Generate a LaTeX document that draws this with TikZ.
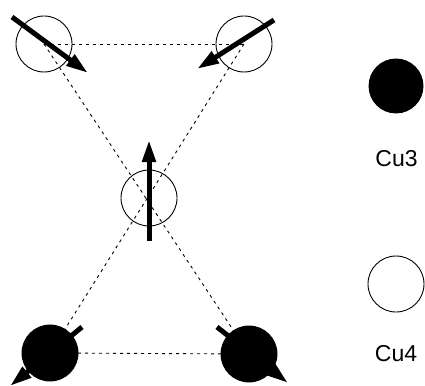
\documentclass[tikz,border=0pt]{standalone}
\usepackage{fontspec}
\setmainfont{Liberation Sans}
\usetikzlibrary{arrows.meta}
\begin{document}
\begin{tikzpicture}[x=1pt,y=-1pt,
  site/.style={circle,draw=black,line width=0.9pt,minimum size=56pt,inner sep=0pt},
  cuthree/.style={site,fill=black},
  cufour/.style={site},
  bond/.style={line width=0.9pt,dash pattern=on 3pt off 4pt},
  spin/.style={line width=5pt,-{Triangle[length=22pt,width=13pt]}},
  lbl/.style={font=\fontsize{23}{23}\selectfont,inner sep=0pt}]
\useasboundingbox (0,0) rectangle (425,385);
% sites
\coordinate (A) at (44,44);
\coordinate (B) at (244,44);
\coordinate (C) at (149,198);
\coordinate (D) at (50,353);
\coordinate (E) at (249,354);
% bonds
\draw[bond] (A) -- (B);
\draw[bond] (D) -- (E);
\draw[bond] (A) -- (E);
\draw[bond] (B) -- (D);
% circles
\node[cufour] (nA) at (A) {};
\node[cufour] (nB) at (B) {};
\node[cufour] (nC) at (C) {};
\node[cuthree] (nD) at (D) {};
\node[cuthree] (nE) at (E) {};
% spins
\coordinate (a1) at (12,17);  \coordinate (a2) at (88,73);
\coordinate (b1) at (274,20); \coordinate (b2) at (197,69);
\coordinate (c1) at (149,241); \coordinate (c2) at (149,140);
\coordinate (d1) at (82,327); \coordinate (d2) at (10,386);
\coordinate (e1) at (217,327); \coordinate (e2) at (288,383);
\draw[spin] (a1) -- (a2);
\draw[spin] (b1) -- (b2);
\draw[spin] (c1) -- (c2);
\draw[spin] (d1) -- (d2);
\draw[spin] (e1) -- (e2);
% legend
\node[cuthree,minimum size=54pt] (L3) at (396,86) {};
\node[lbl] (T3) at (396.5,158.5) {Cu3};
\node[cufour] (L4) at (396,284) {};
\node[lbl] (T4) at (396,353.5) {Cu4};
\end{tikzpicture}
\end{document}
